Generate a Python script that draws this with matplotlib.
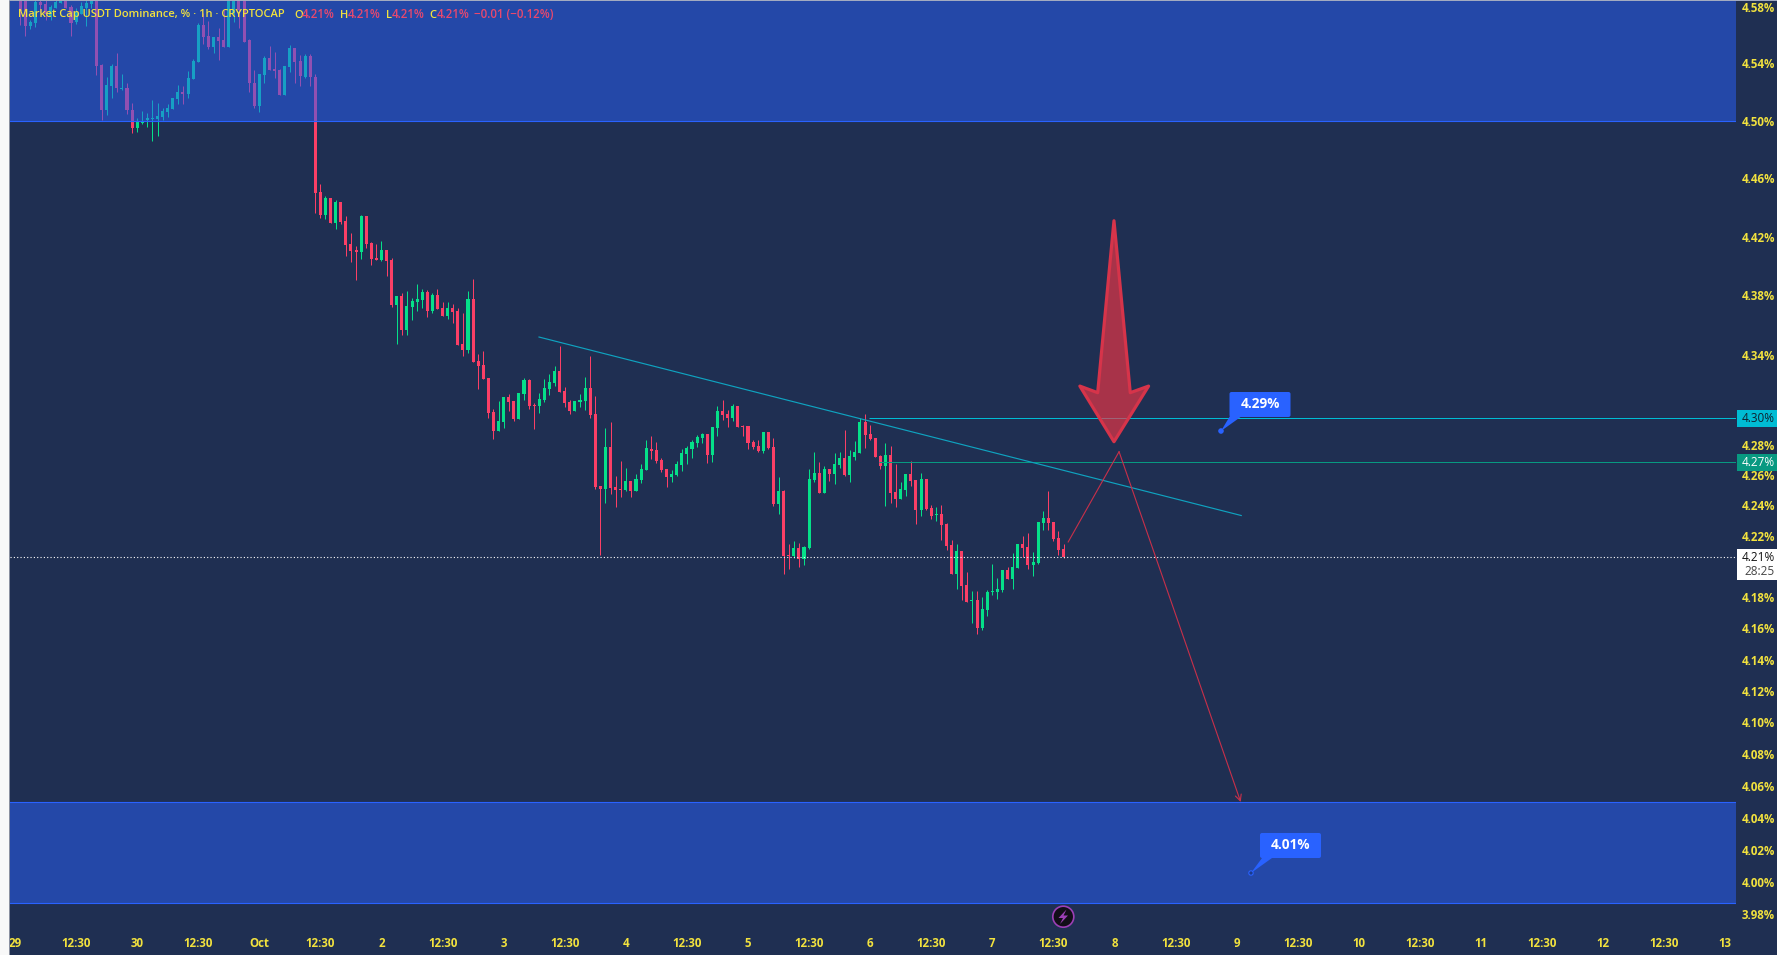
import matplotlib
matplotlib.use('Agg')
import matplotlib.pyplot as plt
from matplotlib.patches import Rectangle, FancyBboxPatch, Circle, Polygon
from matplotlib.ticker import NullLocator
from matplotlib.transforms import Affine2D

# hourly candles, first_hour is counted from Oct 1 00:30
first_hour = -47
opens = [
    4.590, 4.590, 4.5663, 4.5687, 4.5833, 4.5816, 4.5734, 4.5790, 4.5828, 4.590,
    4.5795, 4.5694, 4.5748, 4.5790, 4.5819, 4.593, 4.5388, 4.5073, 4.5241, 4.5383,
    4.5218, 4.5227, 4.5073, 4.4946, 4.4981, 4.5003, 4.5010, 4.5008, 4.5022, 4.5062,
    4.5078, 4.5148, 4.5199, 4.5185, 4.5289, 4.5409, 4.5670, 4.5592, 4.5515, 4.5583,
    4.5564, 4.5515, 4.5757, 4.590, 4.590, 4.5564, 4.5259, 4.5101, 4.5318, 4.5437,
    4.5360, 4.5353, 4.5178, 4.5376, 4.5510, 4.5416, 4.5306, 4.5451, 4.5301,
    4.4505, 4.4347, 4.4464, 4.4293, 4.4436, 4.4306, 4.4149, 4.4108, 4.4094, 4.4340,
    4.4156, 4.4053, 4.4039, 4.4108, 4.4039, 4.3734, 4.3795, 4.3565, 4.3720, 4.3754,
    4.3767, 4.3822, 4.3693, 4.3802, 4.3713, 4.3660, 4.3713, 4.3693, 4.3471, 4.3431,
    4.3774, 4.3357, 4.3330, 4.3243, 4.3017, 4.2891, 4.2950, 4.3116, 4.3090, 4.2970,
    4.3136, 4.3230, 4.3063, 4.3056, 4.3096, 4.3170, 4.3210, 4.3290, 4.3156, 4.3083,
    4.3023, 4.3083, 4.3090, 4.3176, 4.3003, 4.2528, 4.2508, 4.2785, 4.2521, 4.2508,
    4.2502, 4.2561, 4.2495, 4.2567, 4.2633, 4.2772, 4.2765, 4.2699, 4.2640, 4.2587,
    4.2600, 4.2666, 4.2739, 4.2772,
    4.2811, 4.2844, 4.2871, 4.2732, 4.2910, 4.3023, 4.3003, 4.2977, 4.3056, 4.2924,
    4.2924, 4.2818, 4.2791, 4.2758, 4.2884, 4.2785, 4.2410, 4.2495, 4.2076, 4.2069,
    4.2122, 4.2050, 4.2122, 4.2567, 4.2613, 4.2482, 4.2640, 4.2607, 4.2666, 4.2712,
    4.2600, 4.2719, 4.2745, 4.2950, 4.2871, 4.2844, 4.2725, 4.2659, 4.2732, 4.2488,
    4.2442, 4.2501, 4.2607, 4.2567, 4.2370, 4.2574, 4.2383, 4.2338, 4.2344, 4.2279,
    4.2142, 4.1951, 4.2102, 4.1880, 4.1777, 4.1784, 4.1603, 4.1719, 4.1836, 4.1836,
    4.1849, 4.1977, 4.1919, 4.1990, 4.2148, 4.2129, 4.2010, 4.2023, 4.2285, 4.2318,
    4.2292, 4.2187, 4.2116,
]
closes = [
    4.5771, 4.5663, 4.5691, 4.5833, 4.5812, 4.5748, 4.5795, 4.5830, 4.5880, 4.5790,
    4.5687, 4.5764, 4.5805, 4.5823, 4.5870, 4.5383, 4.5073, 4.5248, 4.5383, 4.5225,
    4.5227, 4.5073, 4.4946, 4.4990, 4.4999, 4.5017, 4.5017, 4.5032, 4.5066, 4.5090,
    4.5155, 4.5199, 4.5185, 4.5294, 4.5418, 4.5670, 4.5587, 4.5515, 4.5583, 4.5557,
    4.5515, 4.590, 4.590, 4.5776, 4.5552, 4.5259, 4.5101, 4.5325, 4.5437, 4.5353,
    4.5346, 4.5178, 4.5381, 4.5510, 4.5411, 4.5311, 4.5451, 4.5301, 4.4498,
    4.4347, 4.4464, 4.4293, 4.4436, 4.4299, 4.4142, 4.4101, 4.4094, 4.4340, 4.4149,
    4.4046, 4.4039, 4.4108, 4.4033, 4.3734, 4.3795, 4.3565, 4.3727, 4.3761, 4.3774,
    4.3822, 4.3693, 4.3802, 4.3707, 4.3660, 4.3713, 4.3686, 4.3464, 4.3431, 4.3774,
    4.3351, 4.3324, 4.3237, 4.3010, 4.2891, 4.2957, 4.3116, 4.3083, 4.2970, 4.3143,
    4.3230, 4.3056, 4.3056, 4.3103, 4.3176, 4.3217, 4.3290, 4.3150, 4.3076, 4.3023,
    4.3090, 4.3096, 4.3176, 4.2997, 4.2521, 4.2508, 4.2785, 4.2515, 4.2502, 4.2502,
    4.2561, 4.2495, 4.2574, 4.2640, 4.2778, 4.2758, 4.2692, 4.2633, 4.2587, 4.2607,
    4.2673, 4.2745, 4.2778, 4.2818,
    4.2851, 4.2871, 4.2732, 4.2917, 4.3023, 4.2997, 4.2977, 4.3056, 4.2917, 4.2917,
    4.2811, 4.2785, 4.2758, 4.2884, 4.2778, 4.2410, 4.2495, 4.2069, 4.2069, 4.2122,
    4.2050, 4.2129, 4.2574, 4.2613, 4.2482, 4.2640, 4.2607, 4.2672, 4.2712, 4.2600,
    4.2725, 4.2752, 4.2950, 4.2864, 4.2838, 4.2719, 4.2659, 4.2732, 4.2482, 4.2442,
    4.2508, 4.2607, 4.2561, 4.2370, 4.2574, 4.2377, 4.2331, 4.2344, 4.2272, 4.2135,
    4.1951, 4.2102, 4.1874, 4.1771, 4.1784, 4.1603, 4.1725, 4.1836, 4.1843, 4.1854,
    4.1977, 4.1919, 4.1997, 4.2148, 4.2122, 4.2010, 4.2030, 4.2292, 4.2318, 4.2285,
    4.2181, 4.2109, 4.2060,
]
highs = [
    4.592, 4.592, 4.5705, 4.590, 4.588, 4.590, 4.5812, 4.587, 4.590, 4.592,
    4.5812, 4.5788, 4.5835, 4.5847, 4.590, 4.595, 4.5395, 4.5301, 4.5395, 4.5472,
    4.5325, 4.5259, 4.5124, 4.5020, 4.5066, 4.5050, 4.5143, 4.5120, 4.5090, 4.5113,
    4.5155, 4.5248, 4.5241, 4.5346, 4.5430, 4.5687, 4.5757, 4.5701, 4.5583, 4.5649,
    4.5776, 4.595, 4.595, 4.595, 4.595, 4.5569, 4.5353, 4.5325, 4.5451, 4.5522,
    4.5482, 4.5357, 4.5381, 4.5529, 4.5510, 4.5458, 4.5465, 4.5465, 4.5325,
    4.4560, 4.4478, 4.4464, 4.4450, 4.4436, 4.4340, 4.4224, 4.4135, 4.4347, 4.4340,
    4.4163, 4.4149, 4.4169, 4.4108, 4.4053, 4.3795, 4.3815, 4.3829, 4.3781, 4.3876,
    4.3842, 4.3835, 4.3815, 4.3842, 4.3754, 4.3754, 4.3740, 4.3713, 4.3680, 4.3829,
    4.3910, 4.3404, 4.3424, 4.3243, 4.3036, 4.3090, 4.3116, 4.3136, 4.3090, 4.3143,
    4.3243, 4.3237, 4.3076, 4.3143, 4.3237, 4.3270, 4.3324, 4.3458, 4.3183, 4.3096,
    4.3090, 4.3136, 4.3250, 4.3391, 4.3123, 4.2528, 4.2910, 4.2950, 4.2594, 4.2692,
    4.2646, 4.2561, 4.2607, 4.2673, 4.2831, 4.2857, 4.2818, 4.2712, 4.2640, 4.2633,
    4.2692, 4.2772, 4.2791, 4.2831,
    4.2864, 4.2877, 4.2871, 4.2917, 4.3056, 4.3096, 4.3030, 4.3070, 4.3056, 4.2930,
    4.2924, 4.2831, 4.2831, 4.2884, 4.2884, 4.2844, 4.2587, 4.2501, 4.2148, 4.2168,
    4.2155, 4.2135, 4.2640, 4.2752, 4.2686, 4.2659, 4.2640, 4.2745, 4.2752, 4.2897,
    4.2765, 4.2824, 4.2977, 4.3003, 4.2930, 4.2844, 4.2732, 4.2811, 4.2791, 4.2672,
    4.2554, 4.2607, 4.2692, 4.2567, 4.2613, 4.2574, 4.2403, 4.2390, 4.2403, 4.2285,
    4.2174, 4.2148, 4.2102, 4.1964, 4.1843, 4.1843, 4.1803, 4.1849, 4.2017, 4.1925,
    4.1977, 4.1997, 4.2089, 4.2148, 4.2200, 4.2220, 4.2096, 4.2292, 4.2364, 4.2495,
    4.2292, 4.2233, 4.2148,
]
lows = [
    4.5670, 4.5595, 4.5644, 4.5658, 4.5757, 4.5705, 4.5705, 4.5790, 4.5828, 4.5790,
    4.5593, 4.5677, 4.5748, 4.5663, 4.5788, 4.5318, 4.5003, 4.5038, 4.5157, 4.5201,
    4.5213, 4.5045, 4.4916, 4.4923, 4.4976, 4.4957, 4.4860, 4.4893, 4.5003, 4.5027,
    4.5078, 4.5118, 4.5115, 4.5159, 4.5289, 4.5409, 4.5538, 4.5501, 4.5475, 4.5423,
    4.5515, 4.5515, 4.5691, 4.5646, 4.5552, 4.5201, 4.5085, 4.5062, 4.5259, 4.5353,
    4.5299, 4.5178, 4.5178, 4.5341, 4.5259, 4.5241, 4.5294, 4.5241, 4.4363,
    4.4329, 4.4320, 4.4293, 4.4252, 4.4286, 4.4067, 4.4026, 4.3903, 4.4046, 4.4122,
    4.4005, 4.4039, 4.4033, 4.3930, 4.3720, 4.3471, 4.3531, 4.3531, 4.3633, 4.3693,
    4.3713, 4.3653, 4.3680, 4.3707, 4.3660, 4.3639, 4.3612, 4.3464, 4.3391, 4.3411,
    4.3351, 4.3170, 4.3237, 4.2977, 4.2838, 4.2891, 4.2910, 4.3023, 4.2957, 4.2970,
    4.3096, 4.3036, 4.2905, 4.3010, 4.3083, 4.3130, 4.3190, 4.3150, 4.3050, 4.3003,
    4.3023, 4.3050, 4.3030, 4.2977, 4.2508, 4.2076, 4.2416, 4.2475, 4.2390, 4.2456,
    4.2495, 4.2456, 4.2495, 4.2548, 4.2633, 4.2706, 4.2679, 4.2620, 4.2521, 4.2554,
    4.2594, 4.2626, 4.2673, 4.2712,
    4.2785, 4.2811, 4.2679, 4.2686, 4.2857, 4.2963, 4.2917, 4.2957, 4.2917, 4.2857,
    4.2772, 4.2772, 4.2752, 4.2745, 4.2772, 4.2397, 4.2344, 4.1951, 4.1984, 4.2056,
    4.1997, 4.2010, 4.2116, 4.2554, 4.2482, 4.2482, 4.2561, 4.2541, 4.2646, 4.2594,
    4.2554, 4.2699, 4.2745, 4.2778, 4.2831, 4.2719, 4.2640, 4.2397, 4.2416, 4.2390,
    4.2442, 4.2462, 4.2528, 4.2279, 4.2331, 4.2370, 4.2311, 4.2298, 4.2174, 4.2109,
    4.1951, 4.1854, 4.1784, 4.1771, 4.1635, 4.1564, 4.1590, 4.1680, 4.1816, 4.1790,
    4.1836, 4.1919, 4.1854, 4.1990, 4.2063, 4.1984, 4.1938, 4.2017, 4.2239, 4.2239,
    4.2168, 4.2076, 4.2056,
]

y_ticks = [3.98, 4.00, 4.02, 4.04, 4.06, 4.08, 4.10, 4.12, 4.14, 4.16, 4.18,
           4.22, 4.24, 4.26, 4.28, 4.34, 4.38, 4.42, 4.46, 4.50, 4.54, 4.58]
x_labels = ['29', '12:30', '30', '12:30', 'Oct', '12:30', '2', '12:30', '3', '12:30',
            '4', '12:30', '5', '12:30', '6', '12:30', '7', '12:30', '8', '12:30',
            '9', '12:30', '10', '12:30', '11', '12:30', '12', '12:30', '13']

upper_zone = (4.50, 4.62)
lower_zone = (3.987, 4.05)
level_cyan = 4.2974
level_green = 4.2683
last_price = 4.2060
trend_hours = [54.95, 192.9]
trend_prices = [4.3518, 4.2333]
path_hours = [158.9, 168.9, 192.8]
path_prices = [4.2160, 4.2753, 4.0498]
arrow_hours = [167.9, 161.2, 164.7, 167.9, 171.1, 174.7]
arrow_prices = [4.2819, 4.3189, 4.3145, 4.4308, 4.3145, 4.3189]

BG = '#1F2F52'
UP = '#05E089'
DOWN = '#FB3F66'
YELLOW = '#F2E23E'
BLUE = '#2962FF'
FONT = 'Open Sans'

W, H = 1777, 955
fig = plt.figure(figsize=(W / 100, H / 100), dpi=100, facecolor=BG)
ax = fig.add_axes([10 / W, (H - 930) / H, 1726 / W, 930 / H], facecolor=BG)
# pixel coordinates for the tradingview chrome around the plot
px = Affine2D().scale(1 / W, -1 / H).translate(0, 1) + fig.transFigure

ax.set_yscale('log')
ax.set_xlim(-48.98, 290.1)
ax.set_ylim(3.9704, 4.5847)
for s in ax.spines.values():
    s.set_visible(False)

# candles
hours = [first_hour + i for i in range(len(opens))]
colors = [UP if c >= o else DOWN for o, c in zip(opens, closes)]
ax.vlines(hours, lows, highs, colors=colors, linewidth=0.72, zorder=2)
ax.bar(hours, [max(abs(c - o), 0.0006) for o, c in zip(opens, closes)],
       bottom=[min(o, c) for o, c in zip(opens, closes)], width=0.6, color=colors, zorder=3)

# zones sit on top of the candles
for low, high in [upper_zone, lower_zone]:
    ax.axhspan(low, high, color=BLUE, alpha=0.5, lw=0, zorder=4)
    ax.axhline(low, color=BLUE, lw=0.8, zorder=4)
    ax.axhline(high, color=BLUE, lw=0.8, zorder=4)

# levels and drawings
ax.hlines(level_cyan, 119.8, 290.1, color='#00BCD4', lw=0.72, zorder=5)
ax.hlines(level_green, 121.7, 290.1, color='#089981', lw=0.72, zorder=5)
ax.axhline(last_price, color='white', lw=0.8, linestyle=(0, (1, 2)), zorder=5)
ax.plot(trend_hours, trend_prices, color='#0FA3C0', lw=0.85, zorder=5)
ax.plot(path_hours[:2], path_prices[:2], color='#C8304A', lw=0.8, zorder=6)
ax.annotate('', xy=(path_hours[2], path_prices[2]), xytext=(path_hours[1], path_prices[1]),
            arrowprops=dict(arrowstyle='->', color='#C8304A', lw=0.8, mutation_scale=11,
                            shrinkA=0, shrinkB=0), zorder=6)
ax.fill(arrow_hours, arrow_prices, facecolor='#F23645', edgecolor='none', alpha=0.65, zorder=7)
ax.fill(arrow_hours, arrow_prices, facecolor='none', edgecolor='#D6344A', lw=2.3,
        joinstyle='round', zorder=7)

# axis ticks
ax.yaxis.tick_right()
ax.set_yticks(y_ticks, [f'{t:.2f}%' for t in y_ticks])
ax.yaxis.set_minor_locator(NullLocator())
ax.tick_params(axis='y', length=0, pad=28, labelcolor=YELLOW, labelsize=8.3)
for lab in ax.get_yticklabels():
    lab.set_ha('right')
    lab.set_fontfamily(FONT)
    lab.set_fontweight('bold')
ax.set_xticks([-48 + 12 * i for i in range(len(x_labels))], x_labels)
ax.tick_params(axis='x', length=0, pad=5, labelcolor=YELLOW, labelsize=8.3)
for lab in ax.get_xticklabels():
    lab.set_fontfamily(FONT)
    lab.set_fontweight('bold')


def chrome_text(x, y, s, color, size=8.5, weight='semibold', ha='left', z=12):
    fig.text(x, y, s, transform=px, color=color, fontsize=size, fontweight=weight,
             family=FONT, ha=ha, va='center', zorder=z)


def chrome_patch(p, z=11):
    p.set_transform(px)
    p.set_zorder(z)
    fig.add_artist(p)


# header
chrome_text(18, 15, 'Market Cap USDT Dominance, % · 1h · CRYPTOCAP', YELLOW, size=8.0)
for x, s in [(294, 'O'), (340, 'H'), (386, 'L'), (429, 'C')]:
    chrome_text(x, 15, s, YELLOW, size=8.0)
for x, s in [(302, '4.21%'), (348, '4.21%'), (392, '4.21%'), (437, '4.21%'), (474, '−0.01 (−0.12%)')]:
    chrome_text(x, 15, s, '#E8486E', size=8.3)

# price tags on the scale
chrome_patch(Rectangle((1737, 410), 40, 17, fc='#00BCD4', ec='none'))
chrome_text(1775, 418.5, '4.30%', '#10202E', weight='normal', ha='right')
chrome_patch(Rectangle((1737, 454), 40, 17, fc='#089981', ec='none'))
chrome_text(1775, 462.5, '4.27%', 'white', weight='normal', ha='right')
chrome_patch(Rectangle((1737, 549), 40, 31, fc='white', ec='none'))
chrome_text(1775, 557.5, '4.21%', '#111111', weight='normal', ha='right')
chrome_text(1775, 571.5, '28:25', '#444444', weight='normal', ha='right')

# callouts
for box_x, box_y, tail, dot, s, dot_fc in [
    (1229.5, 392, [(1230, 416), (1242, 416), (1221, 431)], (1221, 431), '4.29%', BLUE),
    (1260, 833, [(1262, 858), (1272, 858), (1251, 873)], (1251, 873), '4.01%', '#1A3A8C'),
]:
    chrome_patch(Polygon(tail, fc=BLUE, ec='none'))
    chrome_patch(FancyBboxPatch((box_x + 2, box_y + 2), 57, 21, boxstyle='round,pad=2',
                                fc=BLUE, ec='none'))
    chrome_patch(Circle(dot, 2.2, fc=dot_fc, ec=BLUE, lw=0.8))
    chrome_text(box_x + 30.5, box_y + 12, s, 'white', size=9.8, weight='bold', ha='center')

# lightning badge
chrome_patch(Circle((1063.3, 916.7), 10.5, fc='#120E18', ec='#9C3FB5', lw=1.2))
chrome_patch(Polygon([(1066.5, 909.5), (1058.5, 918), (1063, 918), (1060, 924),
                      (1068, 915.5), (1063.5, 915.5)], fc='#9C3FB5', ec='none'))

# white sliver left of the chart and the pale line along the top
chrome_patch(Rectangle((0, 0), 9, H, fc='#F8F8F8', ec='none'), z=20)
chrome_patch(Rectangle((9, 0), 1, H, fc='#8A90A0', ec='none'), z=20)
chrome_patch(Rectangle((9, 0), 1768, 1, fc='#A3ABC0', ec='none'), z=20)

fig.savefig('out.png', dpi=100, facecolor=BG)
